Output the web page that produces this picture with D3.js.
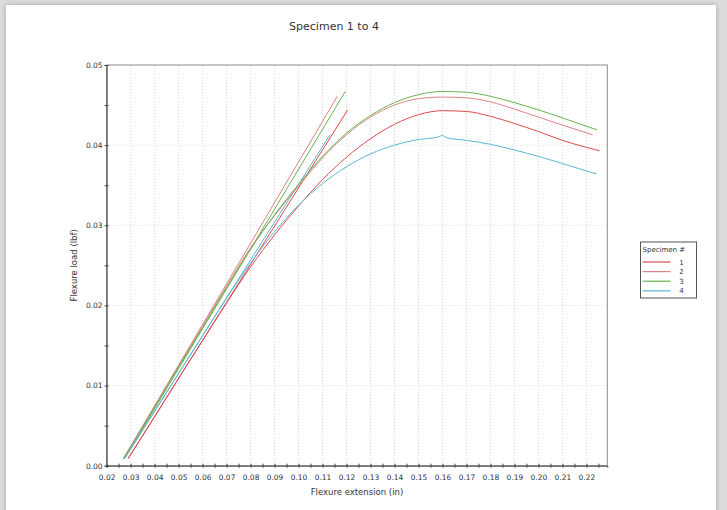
<!DOCTYPE html>
<html>
<head>
<meta charset="utf-8">
<script src="https://cdn.jsdelivr.net/npm/d3@7"></script>
<style>
  body { margin: 0; background: #dcdcdc; width: 727px; height: 510px; overflow: hidden; }
  #card { position: absolute; left: 6px; top: 5px; width: 710px; height: 520px; background: #fff;
          box-shadow: 0 0 5px rgba(0,0,0,0.25); }
  svg { position: absolute; left: 0; top: 0; }
  text { font-family: "DejaVu Sans", Verdana, sans-serif; fill: #333; }
</style>
</head>
<body>
<div id="card"></div>
<div id="chart"></div>
<script>
// chart data
const specimens = ["1", "2", "3", "4"];
const xTickValues = [0.02, 0.03, 0.04, 0.05, 0.06, 0.07, 0.08, 0.09, 0.10, 0.11, 0.12,
                     0.13, 0.14, 0.15, 0.16, 0.17, 0.18, 0.19, 0.20, 0.21, 0.22];
const yTickValues = [0.00, 0.01, 0.02, 0.03, 0.04, 0.05];

// load vs extension curves
const curve1 = [[0.029,0.0009],[0.040,0.0061],[0.050,0.0109],[0.060,0.0156],[0.070,0.0203],
  [0.080,0.0248],[0.090,0.0288],[0.100,0.0324],[0.110,0.0357],[0.120,0.0385],[0.130,0.0408],
  [0.140,0.0426],[0.150,0.0438],[0.160,0.0443],[0.170,0.0442],[0.180,0.0436],[0.190,0.0427],
  [0.200,0.0417],[0.210,0.0406],[0.2255,0.0393]];
const curve2 = [[0.0275,0.0009],[0.040,0.0073],[0.050,0.0124],[0.060,0.0174],[0.070,0.0224],
  [0.080,0.0272],[0.090,0.0312],[0.100,0.0349],[0.110,0.0384],[0.120,0.0413],[0.130,0.0435],
  [0.140,0.0450],[0.150,0.0458],[0.160,0.0460],[0.170,0.0459],[0.180,0.0454],[0.190,0.0445],
  [0.200,0.0435],[0.210,0.0425],[0.2225,0.0413]];
const curve3 = [[0.027,0.0009],[0.040,0.0073],[0.050,0.0123],[0.060,0.0172],[0.070,0.0222],
  [0.080,0.0270],[0.090,0.0313],[0.100,0.0351],[0.110,0.0386],[0.120,0.0415],[0.130,0.0437],
  [0.140,0.0453],[0.150,0.0463],[0.160,0.0467],[0.170,0.0466],[0.180,0.0461],[0.190,0.0453],
  [0.200,0.0444],[0.210,0.0434],[0.2245,0.0419]];
const curve4 = [[0.0275,0.0009],[0.040,0.0068],[0.050,0.0115],[0.060,0.0162],[0.070,0.0209],
  [0.080,0.0253],[0.090,0.0292],[0.100,0.0325],[0.110,0.0352],[0.120,0.0373],[0.130,0.0389],
  [0.140,0.0400],[0.150,0.0407],[0.158,0.0410],[0.160,0.0412],[0.162,0.0409],[0.170,0.0406],
  [0.180,0.0401],[0.190,0.0394],[0.200,0.0386],[0.210,0.0377],[0.2242,0.0364]];

// modulus (tangent) lines
const tangent1 = [[0.029,0.0009],[0.1205,0.0444]];
const tangent2 = [[0.027,0.0009],[0.1162,0.0461]];
const tangent3 = [[0.0275,0.0009],[0.1195,0.0467]];
const tangent4 = [[0.0275,0.0009],[0.1131,0.0413]];

const curves = [curve1, curve2, curve3, curve4];
const tangents = [tangent1, tangent2, tangent3, tangent4];
const colors = ["#dc4a4f", "#dd8289", "#68b34c", "#5bb9d2"];

const width = 727, height = 510;
const plot = {left: 106.6, right: 607.3, top: 65, bottom: 465.7};

let svg = d3.select("#chart")
    .append("svg")
    .attr("width", width)
    .attr("height", height);

let x = d3.scaleLinear().domain([0.02, 0.2287]).range([plot.left, plot.right]);
let y = d3.scaleLinear().domain([0, 0.05]).range([plot.bottom, plot.top]);

// dotted grid at major ticks
svg.append("g").selectAll("line")
    .data(xTickValues.slice(1))
    .enter().append("line")
    .attr("x1", d => x(d)).attr("x2", d => x(d))
    .attr("y1", plot.top).attr("y2", plot.bottom)
    .attr("stroke", "#d6d6d6").attr("stroke-dasharray", "1,2");

svg.append("g").selectAll("line")
    .data(yTickValues.slice(1, -1))
    .enter().append("line")
    .attr("x1", plot.left).attr("x2", plot.right)
    .attr("y1", d => y(d)).attr("y2", d => y(d))
    .attr("stroke", "#d6d6d6").attr("stroke-dasharray", "1,2");

// frame
svg.append("rect")
    .attr("x", plot.left).attr("y", plot.top)
    .attr("width", plot.right - plot.left).attr("height", plot.bottom - plot.top)
    .attr("fill", "none").attr("stroke", "#8a8a8a");

// axes, ticks every half step
let xMinor = d3.range(0, 42).map(i => 0.02 + i * 0.005).filter(v => v <= 0.2287);
let yMinor = d3.range(0, 11).map(i => i * 0.005);
const isMajor = v => Math.abs(v * 100 - Math.round(v * 100)) < 1e-6;

let xAxis = svg.append("g")
    .attr("transform", `translate(0,${plot.bottom})`)
    .call(d3.axisBottom(x).tickValues(xMinor).tickSizeOuter(0).tickSize(2)
        .tickFormat(d => isMajor(d) ? d3.format(".2f")(d) : ""));
xAxis.selectAll(".tick line").attr("y1", -2).attr("y2", 2).attr("stroke", "#444");
xAxis.selectAll(".tick text").attr("y", 9).style("font-size", "7.5px");
xAxis.select(".domain").attr("stroke", "#444");

let yAxis = svg.append("g")
    .attr("transform", `translate(${plot.left},0)`)
    .call(d3.axisLeft(y).tickValues(yMinor).tickSizeOuter(0).tickSize(2)
        .tickFormat(d => isMajor(d) ? d3.format(".2f")(d) : ""));
yAxis.selectAll(".tick line").attr("x1", -2).attr("x2", 2).attr("stroke", "#444");
yAxis.selectAll(".tick text").attr("x", -4).style("font-size", "7.5px");
yAxis.select(".domain").attr("stroke", "#444");
svg.selectAll(".tick text").attr("fill", "#333").style("font-family", "DejaVu Sans, sans-serif");

// lines
let line = d3.line()
    .x(d => x(d[0]))
    .y(d => y(d[1]))
    .curve(d3.curveMonotoneX);

tangents.forEach(function(t, i) {
    svg.append("path")
        .datum(t)
        .attr("fill", "none")
        .attr("stroke", colors[i])
        .attr("stroke-width", 1)
        .attr("d", d3.line().x(d => x(d[0])).y(d => y(d[1])));
});

curves.forEach(function(c, i) {
    svg.append("path")
        .datum(c)
        .attr("fill", "none")
        .attr("stroke", colors[i])
        .attr("stroke-width", 1)
        .attr("d", line);
});

// titles
svg.append("text")
    .attr("x", 334).attr("y", 30)
    .style("text-anchor", "middle")
    .style("font-size", "11px")
    .text("Specimen 1 to 4");

svg.append("text")
    .attr("x", (plot.left + plot.right) / 2).attr("y", 495)
    .style("text-anchor", "middle")
    .style("font-size", "8.5px")
    .text("Flexure extension (in)");

svg.append("text")
    .attr("transform", `translate(77, ${(plot.top + plot.bottom) / 2}) rotate(-90)`)
    .style("text-anchor", "middle")
    .style("font-size", "8.5px")
    .text("Flexure load (lbf)");

// legend
let legend = svg.append("g").attr("transform", "translate(640.5,242)");
legend.append("rect")
    .attr("width", 56).attr("height", 56)
    .attr("fill", "#fff").attr("stroke", "#555");
legend.append("text")
    .attr("x", 2).attr("y", 10)
    .style("font-size", "7px")
    .text("Specimen #");
specimens.forEach(function(s, i) {
    let yy = 20 + i * 9.6;
    legend.append("line")
        .attr("x1", 2).attr("x2", 30)
        .attr("y1", yy).attr("y2", yy)
        .attr("stroke", colors[i]).attr("stroke-width", 1.2);
    legend.append("text")
        .attr("x", 41).attr("y", yy + 2.5)
        .style("text-anchor", "middle")
        .style("font-size", "7px")
        .text(s);
});
</script>
</body>
</html>
